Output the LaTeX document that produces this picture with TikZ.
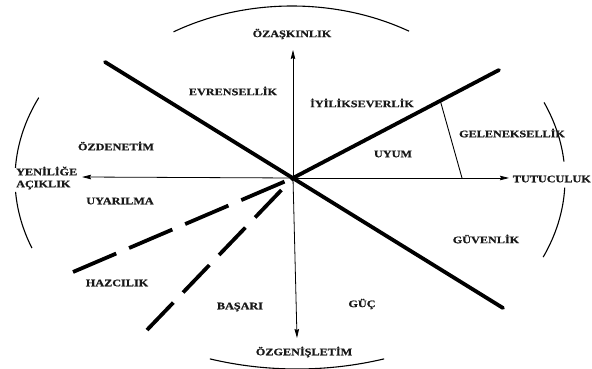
\documentclass[tikz,border=0pt]{standalone}
\usepackage{fontspec}
\newfontfamily\lblfont{Liberation Serif}[FakeStretch=1.22, FakeBold=0.8]
\usetikzlibrary{arrows.meta, calc}

\begin{document}
\begin{tikzpicture}[x=1pt, y=1pt,
  lbl/.style={font=\lblfont\bfseries\fontsize{10}{12}\selectfont, inner sep=1pt, text=black!90},
  axis/.style={line width=0.8pt, -{Stealth[length=9pt, width=4.5pt, inset=1pt]}},
  heavy/.style={line width=3.8pt, line cap=round},
  broken/.style={heavy, line cap=butt},
  rim/.style={line width=1.1pt}
]
  \useasboundingbox (0,0) rectangle (592,369);

  % centre and ends
  \coordinate (O) at (293,191);
  \coordinate (up) at (293,319);
  \coordinate (down) at (297,31);
  \coordinate (left) at (82,192);
  \coordinate (right) at (509,191);
  \coordinate (nw) at (105,307);
  \coordinate (se) at (503,61);
  \coordinate (ne) at (499,299);
  \coordinate (sw1) at (73,97);
  \coordinate (sw2) at (147,39);
  \coordinate (cut) at ($(O)!0.715!(ne)$);
  \coordinate (cutfoot) at (462,191);

  % axes
  \draw[axis] (O) -- (up);
  \draw[axis] (O) -- (down);
  \draw[axis] (O) -- (left);
  \draw[axis] (O) -- (right);

  % boundaries
  \draw[heavy] (nw) -- (se);
  \draw[heavy] (O) -- (ne);
  \draw[broken, dash pattern=on 47pt off 14pt] (sw1) -- (O);
  \draw[broken, dash pattern=on 38pt off 14pt] (sw2) -- (O);
  \draw[line width=0.9pt] (cut) -- (cutfoot);

  % outer arcs
  \draw[rim] (292,182) ++(59.4:230pt and 181pt) arc[start angle=59.4, end angle=121, x radius=230, y radius=181];
  \draw[rim] (297,182) ++(250.8:265pt and 182pt) arc[start angle=250.8, end angle=289.2, x radius=265, y radius=182];
  \draw[rim] (290,190) ++(156:275pt and 200pt) arc[start angle=156, end angle=176.8, x radius=275, y radius=200];
  \draw[rim] (290,190) ++(183.7:275pt and 200pt) arc[start angle=183.7, end angle=200.2, x radius=275, y radius=200];
  \draw[rim] (290,190) ++(22.5:275pt and 200pt) arc[start angle=22.5, end angle=5, x radius=275, y radius=200];
  \draw[rim] (290,190) ++(-2.5:275pt and 200pt) arc[start angle=-2.5, end angle=-23, x radius=275, y radius=200];

  % labels
  \node[lbl] (ozaskinlik) at (292,335) {ÖZAŞKINLIK};
  \node[lbl] (ozgenisletim) at (304,17) {ÖZGENİŞLETİM};
  \node[lbl, anchor=west, align=left] (yenilige) at (15,191) {YENİLİĞE\\AÇIKLIK};
  \node[lbl, anchor=east] (tutuculuk) at (592,190) {TUTUCULUK};
  \node[lbl] (evrensellik) at (233,278) {EVRENSELLİK};
  \node[lbl] (iyilik) at (362,266) {İYİLİKSEVERLİK};
  \node[lbl] (ozdenetim) at (116,223) {ÖZDENETİM};
  \node[lbl] (uyum) at (393,215) {UYUM};
  \node[lbl] (gelenek) at (512,236) {GELENEKSELLİK};
  \node[lbl] (uyarilma) at (120,168) {UYARILMA};
  \node[lbl] (hazcilik) at (117,86) {HAZCILIK};
  \node[lbl] (basari) at (240,62) {BAŞARI};
  \node[lbl] (guc) at (362,65) {GÜÇ};
  \node[lbl] (guvenlik) at (486,130) {GÜVENLİK};
\end{tikzpicture}
\end{document}
